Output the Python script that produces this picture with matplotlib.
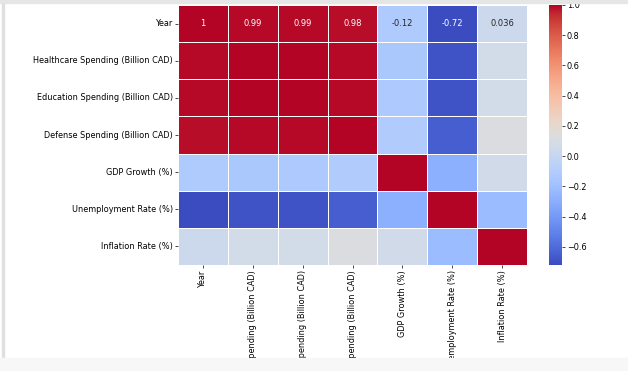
import numpy as np
import pandas as pd
import seaborn as sns
import matplotlib.pyplot as plt
from matplotlib.patches import Rectangle

# column names of the correlation matrix
cols = ["Year", "Healthcare Spending (Billion CAD)", "Education Spending (Billion CAD)",
        "Defense Spending (Billion CAD)", "GDP Growth (%)", "Unemployment Rate (%)",
        "Inflation Rate (%)"]

# correlation values
year_row = [1.0, 0.99, 0.99, 0.98, -0.12, -0.72, 0.036]
health_row = [0.99, 1.0, 1.0, 0.99, -0.14, -0.69, 0.07]
edu_row = [0.99, 1.0, 1.0, 0.99, -0.13, -0.69, 0.07]
defense_row = [0.98, 0.99, 0.99, 1.0, -0.11, -0.65, 0.12]
gdp_row = [-0.12, -0.14, -0.13, -0.11, 1.0, -0.29, 0.06]
unemp_row = [-0.72, -0.69, -0.69, -0.65, -0.29, 1.0, -0.22]
infl_row = [0.036, 0.07, 0.07, 0.12, 0.06, -0.22, 1.0]

corr = pd.DataFrame([year_row, health_row, edu_row, defense_row, gdp_row, unemp_row, infl_row],
                    index=cols, columns=cols)

# only the first row got annotated in the original
annot = np.full(corr.shape, "", dtype=object)
annot[0] = [f"{v:.2g}" for v in year_row]

fig = plt.figure(figsize=(6.28, 3.71), dpi=100)
W, H = 628, 371
ax = fig.add_axes([178 / W, (H - 265) / H, 349 / W, 260 / H])
cax = fig.add_axes([549 / W, (H - 265) / H, 13 / W, 260 / H])

sns.heatmap(corr, annot=annot, fmt="", cmap="coolwarm", linewidths=0.5, linecolor="white",
            ax=ax, cbar_ax=cax, annot_kws={"fontsize": 6})

ax.tick_params(labelsize=5.9, length=2.5, width=0.5, pad=1)
ax.set_xticklabels(cols, rotation=90)
ax.set_yticklabels(cols, rotation=0)
cax.tick_params(labelsize=5.9, length=2.5, width=0.5, pad=1)
ax.collections[0].colorbar.outline.set_visible(False)

# screenshot frame: top gray band, left line, bottom strip
fig.patches.append(Rectangle((0, (H - 3) / H), 1, 3 / H, transform=fig.transFigure,
                             color="#e6e6e6", zorder=10))
fig.patches.append(Rectangle((2 / W, 13 / H), 1.5 / W, (H - 16) / H, transform=fig.transFigure,
                             color="#e0e0e0", zorder=10))
fig.patches.append(Rectangle((0, 0), 1, 13 / H, transform=fig.transFigure,
                             color="#f7f7f7", zorder=10))

fig.savefig("out.png", dpi=100)
